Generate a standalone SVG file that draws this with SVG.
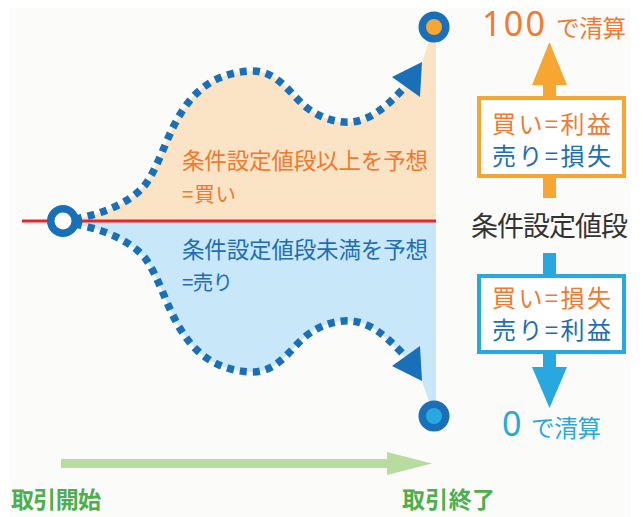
<svg xmlns="http://www.w3.org/2000/svg" width="643" height="517" viewBox="0 0 643 517">
<style>
  text { font-family: "Noto Sans CJK JP", "Noto Sans", sans-serif; }
  .or { fill: #f07a30; }
  .bl { fill: #1d6eb5; }
  .lb { fill: #29a8e0; }
  .gr { fill: #4cae4c; font-weight: bold; }
  .dots { fill: none; stroke: #1a70b8; stroke-width: 7.5; stroke-dasharray: 7 6; }
  .ring { stroke: #1a70b8; stroke-width: 7.5; }
  .num { font-family: "Noto Sans", sans-serif; font-size: 34px; font-weight: normal; }
</style>
<rect x="0" y="0" width="643" height="517" fill="#ffffff"/>
<rect x="10" y="8" width="620" height="509" fill="#fbfbf9"/>

<g id="regions">
  <path d="M63,221 L75,219 C100,214 128,205 145,185 C160,165 168,130 185,107 C200,85 222,72 252,71 C280,71 292,98 310,110 C325,120 340,123 352,122 C370,120 385,108 405,86 L422,62 L434,27 L436,27 L436,221 Z" fill="#fbe3c6"/>
  <path d="M63,221 L75,224 C100,229 128,238 145,258 C160,278 168,313 185,336 C200,358 222,371 252,372 C280,372 292,345 310,333 C325,323 340,320 352,321 C370,323 385,335 405,357 L422,381 L434,416 L436,416 L436,221 Z" fill="#c8e7f8"/>
</g>

<g id="connectors">
  <line x1="22" y1="221" x2="436" y2="221" stroke="#e8262a" stroke-width="3"/>
  <path class="dots" d="M75,219 C100,214 128,205 145,185 C160,165 168,130 185,107 C200,85 222,72 252,71 C280,71 292,98 310,110 C325,120 340,123 352,122 C370,120 385,108 402,90"/>
  <polygon points="422,62 392,77 420,97" fill="#1a70b8"/>
  <path class="dots" d="M75,224 C100,229 128,238 145,258 C160,278 168,313 185,336 C200,358 222,371 252,372 C280,372 292,345 310,333 C325,323 340,320 352,321 C370,323 385,335 402,353"/>
  <polygon points="422,381 392,366 420,346" fill="#1a70b8"/>
  <rect x="61" y="459" width="327" height="9" fill="#b7dca0"/>
  <polygon points="387,452 432,463.5 387,475" fill="#b7dca0"/>
  <rect x="543" y="84" width="13" height="114" fill="#f6a733"/>
  <polygon points="532,85 549.5,42 567,85" fill="#f6a733"/>
  <rect x="543" y="253" width="13" height="115" fill="#29a8e0"/>
  <polygon points="532,367 549.5,408 567,367" fill="#29a8e0"/>
</g>

<g id="start">
  <circle cx="63" cy="221" r="12.25" fill="#ffffff" class="ring"/>
</g>
<g id="end-high">
  <circle cx="434" cy="27" r="11.75" fill="#f6a733" class="ring"/>
</g>
<g id="end-low">
  <circle cx="434" cy="416" r="11.75" fill="#29a8e0" class="ring"/>
</g>

<g id="label-up">
  <text class="or" x="182" y="169" font-size="22.5" textLength="246" lengthAdjust="spacing">条件設定値段以上を予想</text>
  <text class="or" x="182" y="202" font-size="20.5" textLength="54" lengthAdjust="spacing">=買い</text>
</g>
<g id="label-down">
  <text class="bl" x="182" y="258" font-size="22.5" textLength="246" lengthAdjust="spacing">条件設定値段未満を予想</text>
  <text class="bl" x="182" y="290" font-size="20.5" textLength="51" lengthAdjust="spacing">=売り</text>
</g>

<g id="settle-100">
  <text class="or num" x="482" y="36" textLength="63" lengthAdjust="spacing">100</text>
  <text class="or" x="556" y="37" font-size="23.5" textLength="70" lengthAdjust="spacing">で清算</text>
</g>
<g id="box-up">
  <rect x="479" y="98" width="145" height="78" fill="#ffffff" stroke="#f6a733" stroke-width="4"/>
  <text class="or" x="492" y="133" font-size="24" textLength="119" lengthAdjust="spacing">買い=利益</text>
  <text class="bl" x="492" y="165" font-size="24" textLength="119" lengthAdjust="spacing">売り=損失</text>
</g>
<g id="strike">
  <text x="471" y="236" font-size="27" fill="#333333" textLength="157" lengthAdjust="spacing">条件設定値段</text>
</g>
<g id="box-down">
  <rect x="479" y="276" width="145" height="76" fill="#ffffff" stroke="#29a8e0" stroke-width="4"/>
  <text class="or" x="492" y="307" font-size="24" textLength="119" lengthAdjust="spacing">買い=損失</text>
  <text class="bl" x="492" y="339" font-size="24" textLength="119" lengthAdjust="spacing">売り=利益</text>
</g>
<g id="settle-0">
  <text class="lb num" x="502" y="436">0</text>
  <text class="lb" x="531" y="437" font-size="23.5" textLength="70" lengthAdjust="spacing">で清算</text>
</g>

<g id="trade-start">
  <text class="gr" x="11" y="508" font-size="23" textLength="90" lengthAdjust="spacing">取引開始</text>
</g>
<g id="trade-end">
  <text class="gr" x="402" y="508" font-size="23" textLength="93" lengthAdjust="spacing">取引終了</text>
</g>
</svg>
